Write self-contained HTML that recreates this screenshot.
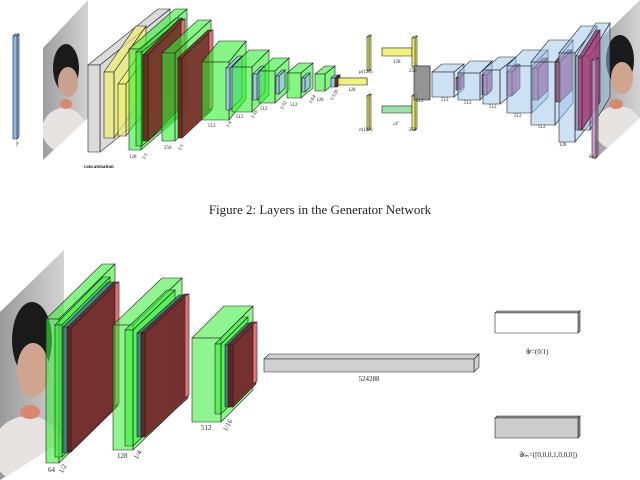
<!DOCTYPE html>
<html><head><meta charset="utf-8"><style>
html,body{margin:0;padding:0;background:#fff;width:640px;height:480px;overflow:hidden}
svg{display:block}
text{font-family:"Liberation Serif",serif;fill:#222}
</style></head><body>
<svg id="s" width="640" height="480" viewBox="0 0 640 480" xmlns="http://www.w3.org/2000/svg">
<defs>
<linearGradient id="pg" x1="0" x2="1" y1="0" y2="0"><stop offset="0" stop-color="#9a9a9a"/><stop offset="1" stop-color="#d5d5d5"/></linearGradient>
<clipPath id="c1"><polygon points="43,48 88,0 88,118 43,160"/></clipPath>
<clipPath id="c2"><polygon points="594,45 640,0 640,118 594,160"/></clipPath>
<clipPath id="c3"><polygon points="0,312 64,250 64,440 0,480"/></clipPath>
</defs>
<g clip-path="url(#c1)"><rect x="40" y="0" width="50" height="170" fill="url(#pg)"/>
<ellipse cx="66" cy="68" rx="13" ry="24" fill="#1a1a1a"/><ellipse cx="68" cy="82" rx="10" ry="15" fill="#c9a28f"/><ellipse cx="64" cy="130" rx="22" ry="22" fill="#e6e3e0"/><ellipse cx="66" cy="104" rx="6" ry="5" fill="#d98870"/></g>
<g clip-path="url(#c2)"><rect x="590" y="0" width="52" height="170" fill="url(#pg)"/>
<ellipse cx="620" cy="60" rx="14" ry="25" fill="#1a1a1a"/><ellipse cx="622" cy="78" rx="11" ry="16" fill="#cfa590"/><ellipse cx="618" cy="128" rx="24" ry="22" fill="#e6e3e0"/><ellipse cx="616" cy="104" rx="7" ry="5" fill="#d98870"/></g>
<g clip-path="url(#c3)"><rect x="0" y="245" width="66" height="240" fill="url(#pg)"/>
<ellipse cx="32" cy="340" rx="20" ry="38" fill="#1a1a1a"/><ellipse cx="33" cy="370" rx="16" ry="27" fill="#cfa590"/><ellipse cx="28" cy="450" rx="36" ry="34" fill="#e6e3e0"/><ellipse cx="30" cy="412" rx="10" ry="7" fill="#d98870"/></g>
<g id="boxes"></g>
<g font-size="5">
<text x="14" y="146" transform="rotate(-60 16 144)">𝒜</text>
<text x="84" y="168" font-weight="bold">concatenation</text>
<text x="129" y="158">128</text><text x="140" y="160" transform="rotate(-60 142 156)">1/1</text>
<text x="164" y="149">256</text><text x="176" y="151" transform="rotate(-60 178 147)">1/1</text>
<text x="208" y="127">512</text><text x="224" y="128" transform="rotate(-60 226 124)">1/4</text>
<text x="236" y="118">512</text><text x="249" y="119" transform="rotate(-60 251 115)">1/16</text>
<text x="260" y="110">512</text><text x="278" y="110" transform="rotate(-60 280 106)">1/32</text>
<text x="290" y="106">512</text><text x="307" y="104" transform="rotate(-60 309 100)">1/64</text>
<text x="316" y="101">128</text><text x="328" y="101" transform="rotate(-60 330 97)">1/128</text>
<text x="348" y="91">128</text>
<text x="359" y="73">μ(128)</text><text x="359" y="131">σ(128)</text>
<text x="393" y="63">128</text><text x="393" y="125">𝒜′</text>
<text x="409" y="72">256</text><text x="409" y="131">256</text>
<text x="416" y="102">512</text>
<text x="441" y="101">512</text><text x="464" y="104">512</text><text x="489" y="108">512</text>
<text x="514" y="117">512</text><text x="538" y="128">512</text><text x="559" y="146">128</text>
<text x="589" y="158">64</text>
</g>
<text x="320" y="214" font-size="13" text-anchor="middle">Figure 2: Layers in the Generator Network</text>
<g font-size="7">
<text x="48" y="472">64</text><text x="58" y="474" transform="rotate(-60 60 470)">1/2</text>
<text x="117" y="458">128</text><text x="133" y="460" transform="rotate(-60 135 456)">1/4</text>
<text x="201" y="430">512</text><text x="222" y="432" transform="rotate(-60 224 428)">1/16</text>
<text x="369" y="381" text-anchor="middle">524288</text>
<text x="537" y="354" text-anchor="middle">𝒴=(0/1)</text>
<text x="548" y="457" text-anchor="middle">𝒴ₘ=([0,0,0,1,0,0,0])</text>
</g>
</svg>
<script>
var g=document.getElementById('boxes'),ns='http://www.w3.org/2000/svg';
function P(pts,f,o){var p=document.createElementNS(ns,'polygon');p.setAttribute('points',pts.map(a=>a.join(',')).join(' '));p.setAttribute('fill',f);p.setAttribute('fill-opacity',o);p.setAttribute('stroke','#222');p.setAttribute('stroke-width','0.6');g.appendChild(p);}
function B(x,y,w,h,dx,dy,f,o,f2){o=o||0.6;f2=f2||f;
P([[x+w,y],[x+w+dx,y-dy],[x+w+dx,y+h-dy],[x+w,y+h]],f2,o);
P([[x,y],[x+dx,y-dy],[x+w+dx,y-dy],[x+w,y]],f2,o);
P([[x,y],[x+w,y],[x+w,y+h],[x,y+h]],f,o);}
function R(x,y,w,h,dx,dy){B(x,y,w,h,dx,dy,'#6a1c1c',0.9,'#7a2828');P([[x+w+dx-3,y-dy+2],[x+w+dx+1,y-dy],[x+w+dx+1,y+h-dy-3],[x+w+dx-3,y+h-dy]],'#f07878',0.9);}
var GR='#33ee33',YL='#f0f070',BL='#9cc4ec',PU='#a0306a';
B(13,36,4,103,2,2,'#8fb8e8',1);
B(88,65,12,87,70,56,'#cccccc',0.7);
B(104,72,10,66,32,46,YL,0.7);B(118,84,8,52,26,36,YL,0.7);
B(129,49,12,101,46,40,GR,0.6);B(136,52,6,94,40,34,GR,0.6);
R(143,55,5,86,36,36);
B(162,53,13,88,36,33,GR,0.6);R(178,58,4,80,30,28);
B(202,62,27,58,17,21,GR,0.6);B(226,68,4,42,12,12,BL,0.8);
B(232,67,20,45,17,17,GR,0.6);B(253,74,4,26,8,8,BL,0.8);
B(259,71,16,32,14,13,GR,0.6);B(276,76,3,18,6,6,BL,0.8);
B(287,73,14,25,12,10,GR,0.6);B(302,78,3,14,5,5,BL,0.8);
B(315,74,10,17,10,8,GR,0.6);B(331,78,4,9,4,3,BL,0.9);B(335,78,2,9,3,3,'#7a2828',0.9);
B(338,78,29,7,0,0,YL,0.9);
B(367,37,2,34,2,2,YL,1);B(367,96,2,34,2,2,YL,1);
B(382,48,30,8,0,0,YL,0.9);B(382,106,30,7,0,0,'#90e0a0',0.9);
B(412,38,3,29,2,2,YL,1);B(412,96,3,34,2,2,YL,1);
B(414,66,16,34,0,0,'#888',0.9);
B(432,72,22,25,10,8,BL,0.5);B(456,78,4,12,4,4,PU,0.7);
B(458,73,22,27,12,12,BL,0.5);B(482,75,5,20,5,5,PU,0.7);
B(483,70,17,34,16,13,BL,0.5);B(507,72,5,24,8,8,PU,0.7);
B(507,66,25,47,16,16,BL,0.5);B(533,68,5,32,10,10,PU,0.7);
B(531,62,24,63,18,22,BL,0.5);B(556,62,4,40,12,12,PU,0.7);
B(559,53,16,89,22,27,BL,0.5);
B(576,56,14,74,20,33,BL,0.5);B(578,58,4,72,18,28,PU,0.8);
B(592,60,4,98,2,2,'#c090c0',0.8);
B(46,319,13,144,56,55,GR,0.6);B(55,325,7,132,48,48,GR,0.6);
B(63,327,6,126,45,45,'#3a7a80',0.9);R(67,328,4,124,47,46);
B(113,325,20,125,49,47,GR,0.55);B(125,330,8,116,42,40,GR,0.6);
B(137,333,5,104,42,38,'#3a7a80',0.9);R(141,333,4,104,43,39);
B(192,338,29,84,32,32,GR,0.55);B(215,344,6,70,27,27,GR,0.6);
B(225,345,5,62,22,22,'#3a7a80',0.9);R(228,345,5,62,23,23);
B(264,359,210,13,5,5,'#d0d0d0',1);
B(495,313,83,20,2,2,'#ffffff',1,'#aaa');
B(495,418,83,20,2,2,'#cccccc',1,'#999');
</script>
</body></html>
